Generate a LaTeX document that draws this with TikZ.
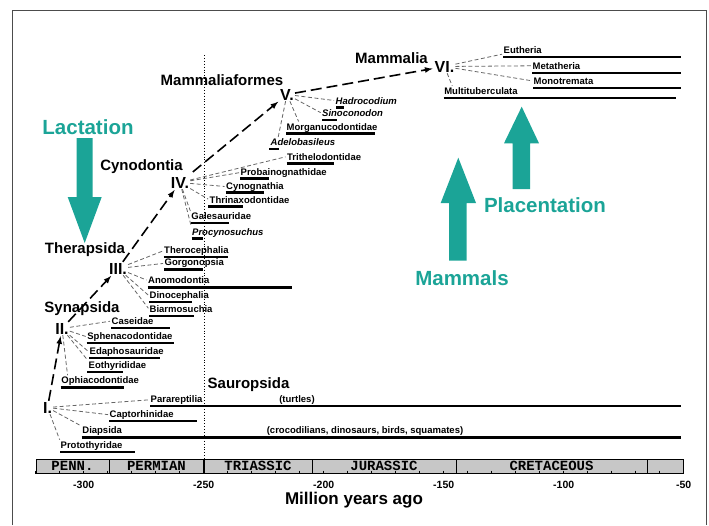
\documentclass[tikz,border=0pt]{standalone}
\usepackage{fontspec}
\setmainfont{Liberation Sans}
\newfontfamily\periodfont{Liberation Mono}
\usepackage{tikz}
\usetikzlibrary{calc}
\definecolor{milkteal}{RGB}{27,164,151}

\tikzset{
  clade/.style={font=\fontsize{9.5}{10}\selectfont\bfseries, inner sep=0.5pt, anchor=base west},
  taxon/.style={font=\fontsize{15}{16}\selectfont\bfseries, inner sep=0pt, anchor=base},
  rank/.style={font=\fontsize{16}{17}\selectfont\bfseries, inner sep=1pt, anchor=base},
  trait/.style={font=\fontsize{20.5}{22}\selectfont\bfseries, text=milkteal, inner sep=0pt, anchor=base},
  periodlab/.style={font=\periodfont\fontsize{14}{15}\selectfont\bfseries, inner sep=0pt, anchor=base},
  yearlab/.style={font=\fontsize{10.5}{11}\selectfont\bfseries, inner sep=0pt, anchor=base},
  twig/.style={black!60, line width=0.8pt, dash pattern=on 4pt off 2.5pt, shorten >=1pt},
  trunk/.style={line width=1.6pt, dash pattern=on 11pt off 5pt, -latex, shorten >=1pt},
  rangebar/.style={line width=2.4pt},
  bigarrow/.style={fill=milkteal}
}

\begin{document}
\begin{tikzpicture}[x=1pt,y=-1pt]
    \useasboundingbox (0,0) rectangle (709,525);
    \draw[line width=0.9pt,black!70] (12.7,525) -- (12.7,10.7) -- (706.7,10.7) -- (706.7,525);

    % Permian-Triassic boundary
    \draw[dotted,line width=0.9pt] (204,55) -- (204,459);

    % time scale
    \filldraw[fill=black!22,line width=0.8pt] (36,459) rectangle (683,473);
    \foreach \x in {109,204,312,456.7,647}
        \draw[line width=0.9pt] (\x,459) -- (\x,473);
    \draw[line width=1.4pt] (204,459) -- (204,473);
    \foreach \t in {-320,-310,...,-50}
        \draw[line width=0.6pt] ({203.7+(\t+250)*2.4},470.5) -- ++(0,3.5);
    \node[periodlab] (penn) at (72.5,470.2) {PENN.};
    \node[periodlab] (perm) at (156.5,470.2) {PERMIAN};
    \node[periodlab] (trias) at (258,470.2) {TRIASSIC};
    \node[periodlab] (juras) at (384,470.2) {JURASSIC};
    \node[periodlab] (creta) at (551.5,470.2) {CRETACEOUS};
    \foreach \t in {-300,-250,...,-50}
        \node[yearlab] (lab\t) at ({203.7+(\t+250)*2.4},488.8) {\t};
    \node[taxon,font=\fontsize{17}{18}\selectfont\bfseries] (myago) at (354,504.5) {Million years ago};

    % big groups
    \node[taxon] (therap) at (85,253.5) {Therapsida};
    \node[taxon] (synap) at (82,312.5) {Synapsida};
    \node[taxon] (cynod) at (141.5,170) {Cynodontia};
    \node[taxon] (mamform) at (222,85.5) {Mammaliaformes};
    \node[taxon] (mammalia) at (391.5,63.5) {Mammalia};
    \node[taxon] (saurop) at (248.5,388) {Sauropsida};

    \node[rank] (I) at (47.5,413) {I.};
    \node[rank] (II) at (62,334) {II.};
    \node[rank] (III) at (118,274) {III.};
    \node[rank] (IV) at (180,188) {IV.};
    \node[rank] (V) at (287,100) {V.};
    \node[rank] (VI) at (444.5,72) {VI.};

    \draw[trunk] (I) -- (II);
    \draw[trunk] (II) -- (III);
    \draw[trunk] (III) -- (IV);
    \draw[trunk,shorten <=6pt] (IV) -- (V);
    \draw[trunk] (V) -- (VI);

    % I.
    \node[clade] (para) at (150,402.2) {Parareptilia};
    \draw[rangebar] (150,405.7) -- (681,405.7);
    \node[clade,anchor=base] (turtles) at (297,402.2) {(turtles)};
    \node[clade] (capto) at (109,417.2) {Captorhinidae};
    \draw[rangebar] (109,420.7) -- (197,420.7);
    \node[clade] (diap) at (81.7,433.8) {Diapsida};
    \draw[rangebar] (81.7,437.3) -- (681,437.3);
    \node[clade,anchor=base] (crocs) at (365,433.8) {(crocodilians, dinosaurs, birds, squamates)};
    \node[clade] (proto) at (60,448.2) {Protothyridae};
    \draw[rangebar] (60,451.7) -- (135,451.7);
    \draw[twig] (I) -- (para.west);
    \draw[twig] (I) -- (capto.west);
    \draw[twig] (I) -- (diap.north west);
    \draw[twig] (I) -- (proto.north west);

    % II.
    \node[clade] (case) at (111,324.5) {Caseidae};
    \draw[rangebar] (111,328) -- (169.5,328);
    \node[clade] (sphen) at (86.7,339.2) {Sphenacodontidae};
    \draw[rangebar] (86.7,342.7) -- (174,342.7);
    \node[clade] (edapho) at (89,354.5) {Edaphosauridae};
    \draw[rangebar] (89,358) -- (160,358);
    \node[clade] (eothy) at (88,368.2) {Eothyrididae};
    \draw[rangebar] (87,371.7) -- (123,371.7);
    \node[clade] (ophi) at (60.7,383.8) {Ophiacodontidae};
    \draw[rangebar] (60.7,387.3) -- (124,387.3);
    \draw[twig] (II) -- (case.west);
    \draw[twig] (II) -- (sphen.west);
    \draw[twig] (II) -- (edapho.west);
    \draw[twig] (II) -- (eothy.north west);
    \draw[twig] (II) -- ([xshift=7pt]ophi.north west);

    % III.
    \node[clade] (thero) at (163.5,253.2) {Therocephalia};
    \draw[rangebar] (163.5,256.7) -- (228,256.7);
    \node[clade] (gorgo) at (164,265.8) {Gorgonopsia};
    \draw[rangebar] (164,269.3) -- (203,269.3);
    \node[clade] (anomo) at (147.5,283.8) {Anomodontia};
    \draw[rangebar] (147.5,287.3) -- (292,287.3);
    \node[clade] (dino) at (149,298.2) {Dinocephalia};
    \draw[rangebar] (149,301.7) -- (191.5,301.7);
    \node[clade] (biarmo) at (149,312.5) {Biarmosuchia};
    \draw[rangebar] (149,316) -- (193.5,316);
    \draw[twig] (III) -- (thero.west);
    \draw[twig] (III) -- (gorgo.west);
    \draw[twig] (III) -- (anomo.west);
    \draw[twig] (III) -- (dino.west);
    \draw[twig] (III) -- (biarmo.west);

    % IV.
    \node[clade] (trith) at (286.5,160) {Trithelodontidae};
    \draw[rangebar] (286.5,163.5) -- (334,163.5);
    \node[clade] (probain) at (240,175) {Probainognathidae};
    \draw[rangebar] (240,178.5) -- (269,178.5);
    \node[clade] (cynog) at (225.5,189) {Cynognathia};
    \draw[rangebar] (225.5,192.5) -- (263.5,192.5);
    \node[clade] (thrin) at (209,203) {Thrinaxodontidae};
    \draw[rangebar] (208,206.5) -- (243,206.5);
    \node[clade] (gales) at (190.7,219.5) {Galesauridae};
    \draw[rangebar] (190.7,223) -- (229,223);
    \node[clade] (procyn) at (191.5,235) {\itshape Procynosuchus};
    \draw[rangebar] (191.5,238.5) -- (203,238.5);
    \draw[twig] (IV) -- (trith.west);
    \draw[twig] (IV) -- (probain.west);
    \draw[twig] (IV) -- (cynog.west);
    \draw[twig] (IV) -- (thrin.west);
    \draw[twig] (IV) -- (gales.north west);
    \draw[twig] (IV) -- (procyn.north west);

    % V.
    \node[clade] (hadro) at (335,104) {\itshape Hadrocodium};
    \draw[rangebar] (336,107.5) -- (344,107.5);
    \node[clade] (sino) at (321.5,116.5) {\itshape Sinoconodon};
    \draw[rangebar] (322,120) -- (337,120);
    \node[clade] (morgan) at (286,130) {Morganucodontidae};
    \draw[rangebar] (286,133.5) -- (375,133.5);
    \node[clade] (adelo) at (270,145.5) {\itshape Adelobasileus};
    \draw[rangebar] (269,149) -- (279,149);
    \draw[twig] (V) -- (hadro.west);
    \draw[twig] (V) -- (sino.west);
    \draw[twig] (V) -- ([xshift=13pt]morgan.north west);
    \draw[twig] (V) -- ([xshift=8pt]adelo.north west);

    % VI.
    \node[clade] (euth) at (503,53.2) {Eutheria};
    \draw[rangebar] (503,56.7) -- (681,56.7);
    \node[clade] (meta) at (532,69.2) {Metatheria};
    \draw[rangebar] (532,72.7) -- (681,72.7);
    \node[clade] (mono) at (533,84.2) {Monotremata};
    \draw[rangebar] (533,87.7) -- (681,87.7);
    \node[clade] (multi) at (443.6,94.5) {Multituberculata};
    \draw[rangebar] (443.6,98) -- (676,98);
    \draw[twig] (VI) -- (euth.south west);
    \draw[twig] (VI) -- (meta.west);
    \draw[twig] (VI) -- (mono.west);
    \draw[twig] (VI) -- ([xshift=9pt]multi.north west);

    % traits
    \node[trait] (lact) at (88,134) {Lactation};
    \fill[bigarrow] (76.7,138) -- (92.7,138) -- (92.7,197) -- (101.7,197) -- (84.7,243) -- (67.7,197) -- (76.7,197) -- cycle;
    \node[trait] (mammals) at (462,285) {Mammals};
    \fill[bigarrow] (449,260.7) -- (466.7,260.7) -- (466.7,203) -- (476,203) -- (458.3,157.7) -- (440.7,203) -- (449,203) -- cycle;
    \node[trait] (placent) at (545,212) {Placentation};
    \fill[bigarrow] (512.7,189) -- (530,189) -- (530,143.3) -- (539,143.3) -- (521.7,106.7) -- (504,143.3) -- (512.7,143.3) -- cycle;
\end{tikzpicture}
\end{document}
